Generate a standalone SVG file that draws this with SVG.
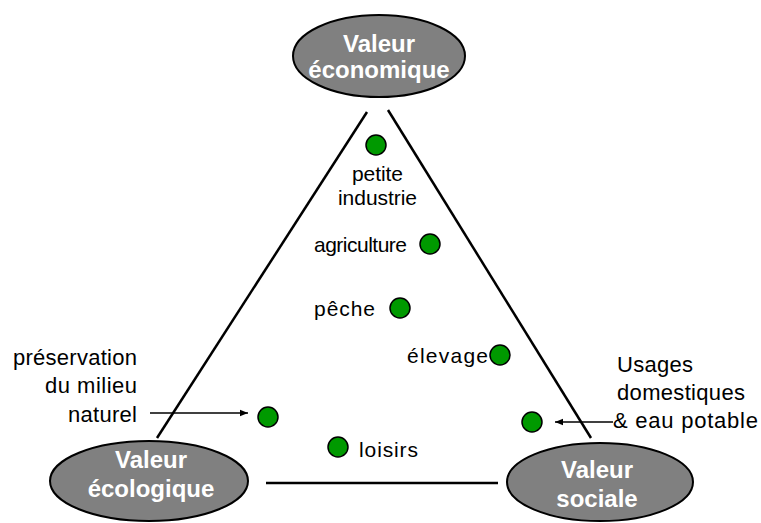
<svg xmlns="http://www.w3.org/2000/svg" width="761" height="523" viewBox="0 0 761 523">
  <style>
    .pole ellipse { fill: #808080; stroke: #000; stroke-width: 2; }
    .pole text { font-family: "Liberation Sans", Arial, sans-serif; font-weight: bold; font-size: 24px; fill: #fff; text-anchor: middle; }
    .use circle { fill: #009900; stroke: #000; stroke-width: 1.5; }
    .lbl { font-family: "Liberation Sans", Arial, sans-serif; font-size: 21px; fill: #000; }
    .side { font-family: "Liberation Sans", Arial, sans-serif; font-size: 22px; fill: #000; }
    .edge { stroke: #000; stroke-width: 2.5; fill: none; }
    .ptr { stroke: #000; stroke-width: 1.5; fill: none; marker-end: url(#head); }
  </style>
  <defs>
    <marker id="head" viewBox="0 0 10 10" refX="10" refY="5" markerWidth="8" markerHeight="8" markerUnits="userSpaceOnUse" orient="auto">
      <path d="M0,1 L10,5 L0,9 Z" fill="#000"/>
    </marker>
  </defs>

  <rect width="761" height="523" fill="#fff"/>

  <!-- triangle edges and label pointers -->
  <g id="connectors">
    <line class="edge" x1="367" y1="112" x2="157" y2="438"/>
    <line class="edge" x1="388" y1="110" x2="591" y2="438"/>
    <line class="edge" x1="266" y1="483" x2="498" y2="483"/>
    <line class="ptr" x1="150" y1="413" x2="248" y2="413"/>
    <line class="ptr" x1="613" y1="422" x2="555" y2="422"/>
  </g>

  <!-- poles -->
  <g id="valeur-economique" class="pole">
    <ellipse cx="379" cy="56" rx="86" ry="41"/>
    <text x="379" y="52">Valeur</text>
    <text x="379" y="78">économique</text>
  </g>
  <g id="valeur-ecologique" class="pole">
    <ellipse cx="149" cy="481" rx="99" ry="40"/>
    <text x="151" y="468">Valeur</text>
    <text x="151" y="497">écologique</text>
  </g>
  <g id="valeur-sociale" class="pole">
    <ellipse cx="600" cy="482" rx="93" ry="39"/>
    <text x="597" y="478">Valeur</text>
    <text x="597" y="507">sociale</text>
  </g>

  <!-- uses -->
  <g id="petite-industrie" class="use">
    <circle cx="376" cy="145" r="10"/>
    <text class="lbl" x="352" y="181" textLength="51" lengthAdjust="spacing">petite</text>
    <text class="lbl" x="338" y="205" textLength="79" lengthAdjust="spacing">industrie</text>
  </g>
  <g id="agriculture" class="use">
    <circle cx="430" cy="244" r="10"/>
    <text class="lbl" x="314" y="252" textLength="93" lengthAdjust="spacing">agriculture</text>
  </g>
  <g id="peche" class="use">
    <circle cx="400" cy="308" r="10"/>
    <text class="lbl" x="314" y="316" textLength="61" lengthAdjust="spacing">pêche</text>
  </g>
  <g id="elevage" class="use">
    <circle cx="500" cy="355" r="10"/>
    <text class="lbl" x="407" y="363" textLength="81" lengthAdjust="spacing">élevage</text>
  </g>
  <g id="loisirs" class="use">
    <circle cx="338" cy="447" r="10"/>
    <text class="lbl" x="359" y="457" textLength="59" lengthAdjust="spacing">loisirs</text>
  </g>
  <g id="preservation" class="use">
    <circle cx="268" cy="417" r="10"/>
    <text class="side" x="13" y="365" textLength="124" lengthAdjust="spacing">préservation</text>
    <text class="side" x="45" y="393" textLength="92" lengthAdjust="spacing">du milieu</text>
    <text class="side" x="68" y="422" textLength="69" lengthAdjust="spacing">naturel</text>
  </g>
  <g id="usages-domestiques" class="use">
    <circle cx="532" cy="422" r="10"/>
    <text class="side" x="617" y="372" textLength="76" lengthAdjust="spacing">Usages</text>
    <text class="side" x="617" y="400" textLength="128" lengthAdjust="spacing">domestiques</text>
    <text class="side" x="613" y="428" textLength="145" lengthAdjust="spacing">&amp; eau potable</text>
  </g>
</svg>
